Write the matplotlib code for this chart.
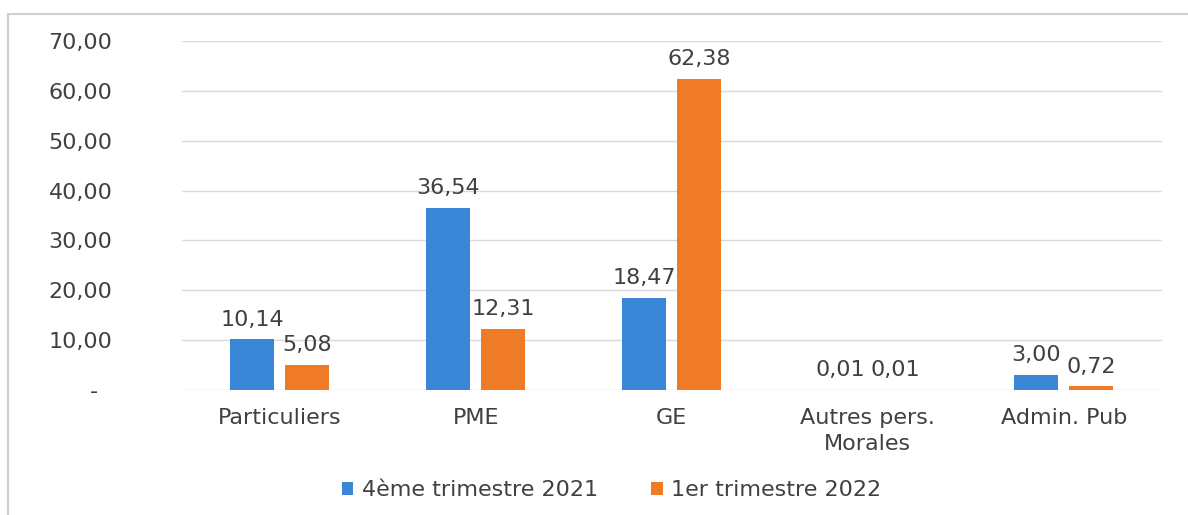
import matplotlib.pyplot as plt
from matplotlib.lines import Line2D
import numpy as np

plt.rcParams['font.family'] = ['DejaVu Sans']

categories = ["Particuliers", "PME", "GE", "Autres pers.\nMorales", "Admin. Pub"]
serie_2021 = [10.14, 36.54, 18.47, 0.01, 3.00]
serie_2022 = [5.08, 12.31, 62.38, 0.01, 0.72]
labels = ["4ème trimestre 2021", "1er trimestre 2022"]
yticks = [0, 10, 20, 30, 40, 50, 60, 70]

blue = "#3a87d8"
orange = "#f07b27"
txt = "#404040"
fs = 16


def fr(v):
    return ("%.2f" % v).replace(".", ",")


fig = plt.figure(figsize=(11.88, 5.15), dpi=100)
ax = fig.add_axes([0.153, 0.2427, 0.825, 0.6777])

x = np.arange(len(categories))
w = 0.225
off = 0.14
b1 = ax.bar(x - off, serie_2021, w, color=blue, label=labels[0], zorder=3)
b2 = ax.bar(x + off, serie_2022, w, color=orange, label=labels[1], zorder=3)

# value labels
for rect, v in zip(b1, serie_2021):
    ax.annotate(fr(v), (rect.get_x() + rect.get_width() / 2, v),
                xytext=(0, 7), textcoords="offset points", ha="center", va="bottom",
                fontsize=fs, color=txt)
for rect, v in zip(b2, serie_2022):
    ax.annotate(fr(v), (rect.get_x() + rect.get_width() / 2, v),
                xytext=(0, 7), textcoords="offset points", ha="center", va="bottom",
                fontsize=fs, color=txt)

ax.set_xlim(-0.5, len(categories) - 0.5)
ax.set_ylim(0, 70)
ax.set_yticks(yticks)
ax.set_yticklabels(["-  "] + [fr(t) for t in yticks[1:]])
ax.set_xticks(x)
ax.set_xticklabels(categories, linespacing=1.35)
ax.tick_params(axis="both", length=0, labelsize=fs, labelcolor=txt)
ax.tick_params(axis="y", pad=50)
ax.tick_params(axis="x", pad=13)
ax.grid(axis="y", color="#d9d9d9", linewidth=1, zorder=0)
for s in ax.spines.values():
    s.set_visible(False)

leg = fig.legend(loc="center", bbox_to_anchor=(0.515, 0.048), ncol=2, frameon=False,
                 fontsize=fs, handlelength=0.5, handleheight=0.5, handletextpad=0.4,
                 columnspacing=2.4)
for t in leg.get_texts():
    t.set_color(txt)

# chart frame
fig.add_artist(Line2D([8 / 1188, 1.0], [1 - 14 / 515, 1 - 14 / 515], color="#d0d0d0", lw=1.5))
fig.add_artist(Line2D([8 / 1188, 8 / 1188], [0, 1 - 14 / 515], color="#d0d0d0", lw=1.5))

fig.savefig("out.png", dpi=100)
